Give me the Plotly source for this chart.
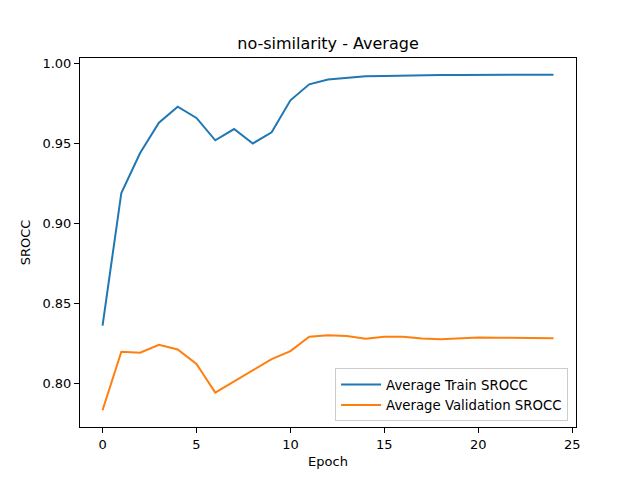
import plotly.graph_objects as go

# per-epoch averages
epochs = list(range(25))
train_srocc = [0.836, 0.919, 0.944, 0.963, 0.973, 0.966, 0.952, 0.959, 0.950, 0.957,
               0.977, 0.987, 0.990, 0.991, 0.992, 0.9922, 0.9925, 0.9927, 0.9928, 0.9929,
               0.993, 0.993, 0.993, 0.993, 0.993]
val_srocc = [0.783, 0.8196, 0.819, 0.824, 0.821, 0.812, 0.794, 0.801, 0.808, 0.815,
             0.820, 0.829, 0.830, 0.8294, 0.8277, 0.829, 0.829, 0.8279, 0.8275, 0.828,
             0.8285, 0.8284, 0.8283, 0.828, 0.828]

font = "DejaVu Sans"

fig = go.Figure()
fig.add_trace(go.Scatter(x=epochs, y=train_srocc, mode="lines", name="Average Train SROCC",
                         line=dict(color="#1f77b4", width=2)))
fig.add_trace(go.Scatter(x=epochs, y=val_srocc, mode="lines", name="Average Validation SROCC",
                         line=dict(color="#ff7f0e", width=2)))

axis_style = dict(showline=True, linecolor="black", linewidth=1, mirror=True,
                  ticks="outside", ticklen=5, tickcolor="black", showgrid=False,
                  zeroline=False, automargin=False,
                  tickfont=dict(family=font, size=13, color="black"))

# page body adds an 8px offset, so margins are trimmed to compensate
fig.update_layout(
    width=640, height=480,
    margin=dict(l=72, r=72, t=50, b=61),
    paper_bgcolor="white", plot_bgcolor="white",
    font=dict(family=font, size=13, color="black"),
    title=dict(text="no-similarity - Average", x=(72 + 248) / 640, xanchor="center",
               y=1 - 35 / 480, yanchor="middle", font=dict(family=font, size=16)),
    xaxis=dict(range=[-1.2, 25.2], tickvals=[0, 5, 10, 15, 20, 25],
               title=dict(text="Epoch", standoff=6, font=dict(family=font, size=13)),
               **axis_style),
    yaxis=dict(range=[0.7725, 1.0035], tickvals=[0.80, 0.85, 0.90, 0.95, 1.00],
               tickformat=".2f",
               title=dict(text="SROCC", standoff=8, font=dict(family=font, size=13)),
               **axis_style),
    legend=dict(x=0.984, y=0.015, xanchor="right", yanchor="bottom",
                bordercolor="#cccccc", borderwidth=1, bgcolor="rgba(255,255,255,0.8)",
                font=dict(family=font, size=13.3), itemwidth=40, tracegroupgap=0),
    showlegend=True,
)

fig.write_html("out.html")
